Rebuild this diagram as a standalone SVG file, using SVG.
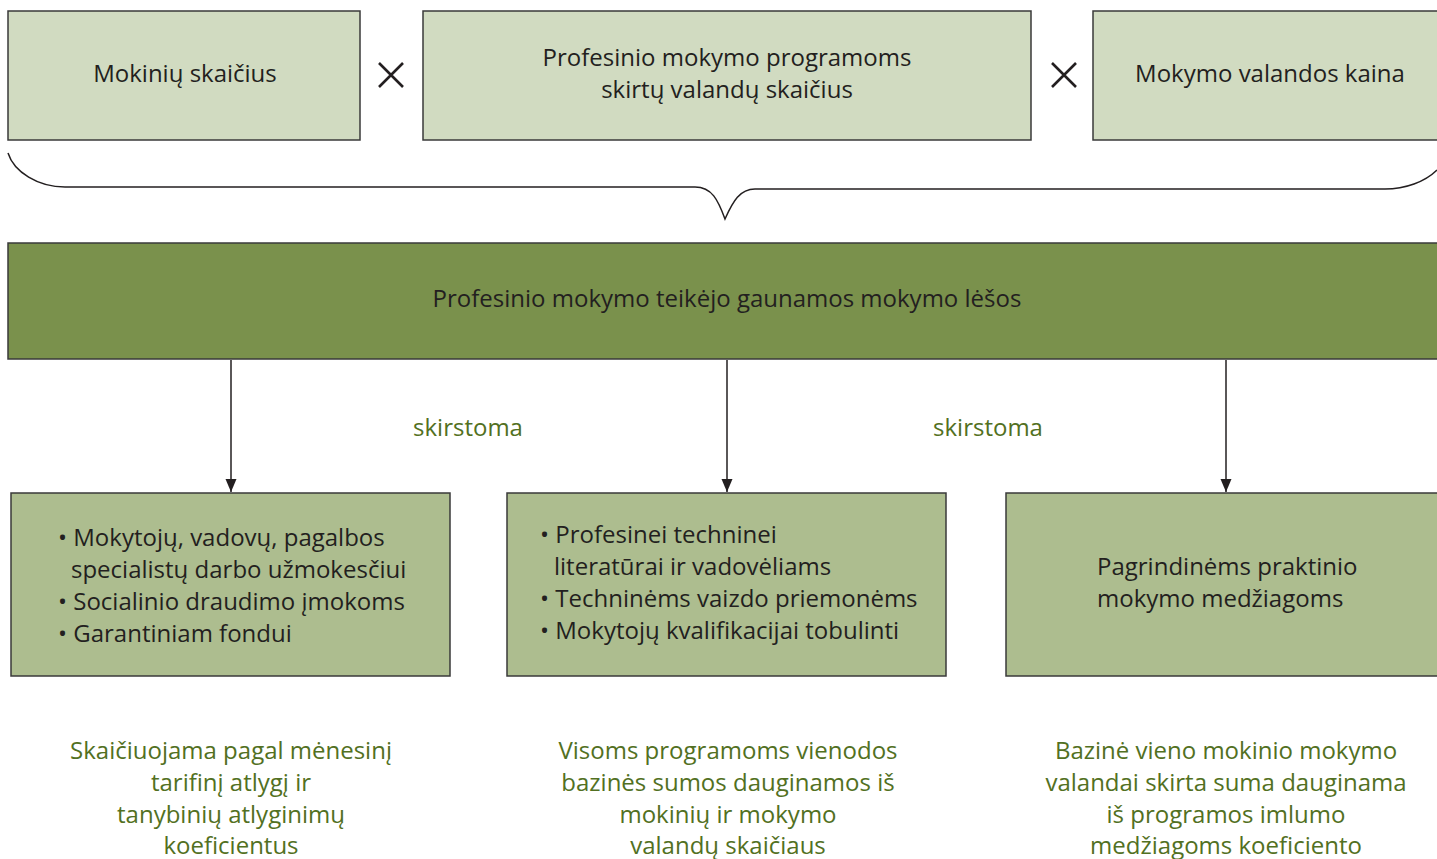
<svg xmlns="http://www.w3.org/2000/svg" width="1437" height="859" viewBox="0 0 1437 859">
<defs>
<style>
.top{fill:#d1dbc1;stroke:#3a3a3a;stroke-width:1.5}
.bar{fill:#7a914c;stroke:#3a3a3a;stroke-width:1.5}
.low{fill:#adbd8f;stroke:#3a3a3a;stroke-width:1.5}
.t{font-family:"Open Sans","Noto Sans",sans-serif;font-size:24px;fill:#231f20}
.g{font-family:"Open Sans","Noto Sans",sans-serif;font-size:24px;fill:#527022}
.c{text-anchor:middle}
.ln{stroke:#231f20;stroke-width:1.5;fill:none}
.x{stroke:#231f20;stroke-width:2.6;fill:none}
</style>
<marker id="ad" markerWidth="12" markerHeight="13" refX="6" refY="13" orient="0" markerUnits="userSpaceOnUse" viewBox="0 0 12 13">
<path d="M0.5,0 L11.5,0 L6,13 Z" fill="#231f20"/>
</marker>
</defs>
<rect width="1437" height="859" fill="#ffffff"/>
<g id="n1"><rect class="top" x="8" y="11" width="352" height="129"/><text class="t c" x="185" y="82">Mokinių skaičius</text></g>
<g id="x1"><path class="x" d="M379,63 L403,87 M403,63 L379,87"/></g>
<g id="n2"><rect class="top" x="423" y="11" width="608" height="129"/><text class="t c" x="727" y="66">Profesinio mokymo programoms</text><text class="t c" x="727" y="98">skirtų valandų skaičius</text></g>
<g id="x2"><path class="x" d="M1052,63 L1076,87 M1076,63 L1052,87"/></g>
<g id="n3"><rect class="top" x="1093" y="11" width="352" height="129"/><text class="t c" x="1270" y="82">Mokymo valandos kaina</text></g>
<g id="brace"><path class="ln" d="M8,153 C14,172 38,187 65,187 L695,187 C712,187 718,200 725,219 C733,201 740,189 755,189 L1385,189 C1405,189 1425,182 1437,170"/></g>
<g id="n4"><rect class="bar" x="8" y="243" width="1440" height="116"/><text class="t c" x="727" y="307">Profesinio mokymo teikėjo gaunamos mokymo lėšos</text></g>
<g id="connectors">
<line class="ln" x1="231" y1="360" x2="231" y2="492" marker-end="url(#ad)"/>
<line class="ln" x1="727" y1="360" x2="727" y2="492" marker-end="url(#ad)"/>
<line class="ln" x1="1226" y1="360" x2="1226" y2="492" marker-end="url(#ad)"/>
<text class="g c" x="468" y="436">skirstoma</text>
<text class="g c" x="988" y="436">skirstoma</text>
</g>
<g id="n5"><rect class="low" x="11" y="493" width="439" height="183"/>
<text class="t" x="58" y="546">• Mokytojų, vadovų, pagalbos</text>
<text class="t" x="71" y="578">specialistų darbo užmokesčiui</text>
<text class="t" x="58" y="610">• Socialinio draudimo įmokoms</text>
<text class="t" x="58" y="642">• Garantiniam fondui</text></g>
<g id="n6"><rect class="low" x="507" y="493" width="439" height="183"/>
<text class="t" x="540" y="543">• Profesinei techninei</text>
<text class="t" x="554" y="575">literatūrai ir vadovėliams</text>
<text class="t" x="540" y="607">• Techninėms vaizdo priemonėms</text>
<text class="t" x="540" y="639">• Mokytojų kvalifikacijai tobulinti</text></g>
<g id="n7"><rect class="low" x="1006" y="493" width="440" height="183"/>
<text class="t" x="1097" y="575">Pagrindinėms praktinio</text>
<text class="t" x="1097" y="607">mokymo medžiagoms</text></g>
<g id="d1"><text class="g c" x="231" y="759">Skaičiuojama pagal mėnesinį</text><text class="g c" x="231" y="791">tarifinį atlygį ir</text><text class="g c" x="231" y="823">tanybinių atlyginimų</text><text class="g c" x="231" y="854">koeficientus</text></g>
<g id="d2"><text class="g c" x="728" y="759">Visoms programoms vienodos</text><text class="g c" x="728" y="791">bazinės sumos dauginamos iš</text><text class="g c" x="728" y="823">mokinių ir mokymo</text><text class="g c" x="728" y="854">valandų skaičiaus</text></g>
<g id="d3"><text class="g c" x="1226" y="759">Bazinė vieno mokinio mokymo</text><text class="g c" x="1226" y="791">valandai skirta suma dauginama</text><text class="g c" x="1226" y="823">iš programos imlumo</text><text class="g c" x="1226" y="854">medžiagoms koeficiento</text></g>
</svg>
